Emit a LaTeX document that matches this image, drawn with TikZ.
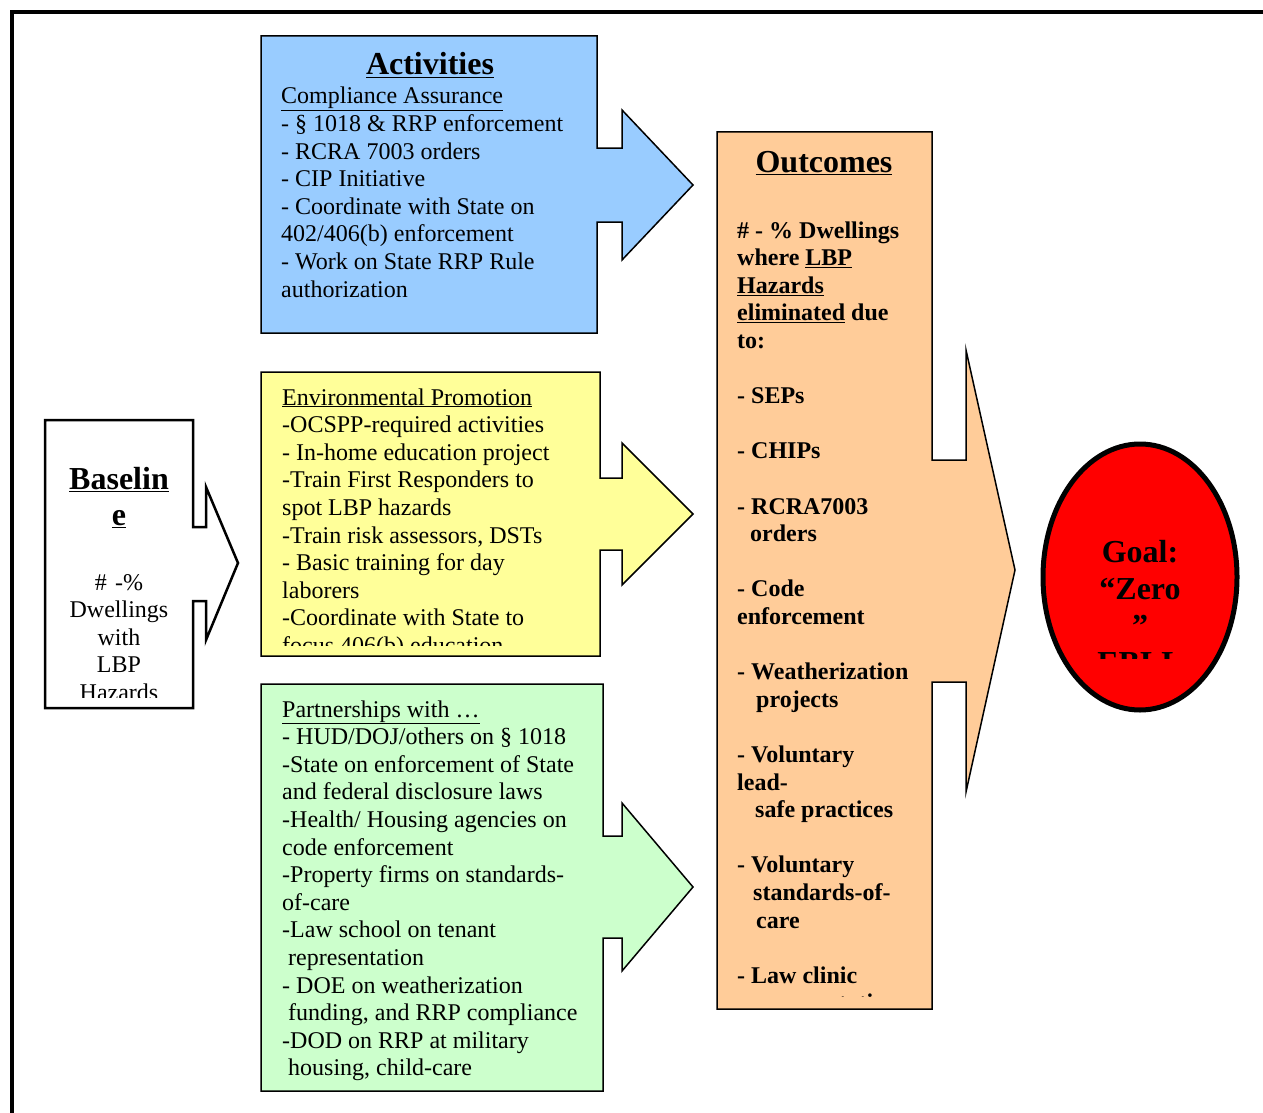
\documentclass[tikz,border=0pt]{standalone}
\usepackage{fontspec}
\setmainfont{Liberation Serif}
\usetikzlibrary{shapes.geometric}

\definecolor{actblue}{HTML}{99CCFF}
\definecolor{promyellow}{HTML}{FFFF99}
\definecolor{partgreen}{HTML}{CCFFCC}
\definecolor{outorange}{HTML}{FFCC99}
\newcommand{\tightspace}{\spaceskip=6pt plus 2pt minus 1pt\relax}

\begin{document}
\begin{tikzpicture}[x=1pt,y=-1pt,
  callout/.style={draw=black,line width=1.5pt,line join=miter},
  txt/.style={inner sep=0pt,anchor=base west,align=left,font=\fontsize{24}{27.6}\selectfont,
    execute at begin node=\tightspace},
  ttl/.style={inner sep=0pt,anchor=base,font=\fontsize{32}{37}\selectfont\bfseries}]
   \useasboundingbox (0,0) rectangle (1263,1113);
   % frame
   \draw[line width=4.5pt,line join=miter] (12,1113) -- (12,12) -- (1263,12);

   % callout shapes
   \draw[callout,line width=2.5pt,fill=white] (45,420) -- (193,420) -- (193,527) -- (206,527) -- (206,487) -- (238,563)
      -- (206,640) -- (206,601) -- (193,601) -- (193,708) -- (45,708) -- cycle;
   \draw[callout,fill=actblue] (261,36) -- (597,36) -- (597,148) -- (622,148) -- (622,110) -- (693,185)
      -- (622,260) -- (622,222) -- (597,222) -- (597,333) -- (261,333) -- cycle;
   \draw[callout,fill=promyellow] (261,372) -- (600,372) -- (600,478) -- (622,478) -- (622,443) -- (693,514)
      -- (622,585) -- (622,550) -- (600,550) -- (600,656) -- (261,656) -- cycle;
   \draw[callout,fill=partgreen] (261,684) -- (603,684) -- (603,836) -- (622,836) -- (622,803) -- (693,887)
      -- (622,971) -- (622,938) -- (603,938) -- (603,1091) -- (261,1091) -- cycle;
   \draw[callout,fill=outorange] (717,132) -- (932,132) -- (932,460) -- (966,460) -- (966,350) -- (1015,570)
      -- (966,792) -- (966,682) -- (932,682) -- (932,1009) -- (717,1009) -- cycle;
   \node[ellipse,draw=black,line width=5pt,fill=red,minimum width=194pt,minimum height=266pt] (goal) at (1140,577) {};

   % baseline
   \node[ttl,align=center] (basetitle) at (119,525) {\underline{Baselin}\\[-1pt]\underline{e}};
   \begin{scope}
    \clip (45,420) rectangle (193,697);
    \node[txt,anchor=base,text width=148pt,align=center] (basetext) at (119,590)
      {\# -\%\\Dwellings\\with\\LBP\\Hazards};
   \end{scope}

   % activities
   \node[ttl] (acttitle) at (430,75) {\underline{Activities}};
   \node[txt,text width=320pt] (acttext) at (281,104)
     {\underline{Compliance Assurance}\\
      - § 1018 \& RRP enforcement\\
      - RCRA 7003 orders\\
      - CIP Initiative\\
      - Coordinate with State on\\
      402/406(b) enforcement\\
      - Work on State RRP Rule\\
      authorization};

   % promotion
   \begin{scope}
    \clip (261,372) rectangle (600,645);
    \node[txt,text width=320pt] (promtext) at (282,405)
      {\underline{Environmental Promotion}\\
       -OCSPP-required activities\\
       - In-home education project\\
       -Train First Responders to\\
       spot LBP hazards\\
       -Train risk assessors, DSTs\\
       - Basic training for day\\
       laborers\\
       -Coordinate with State to\\
       focus 406(b) education};
   \end{scope}

   % partnerships
   \node[txt,text width=330pt] (parttext) at (282,717)
     {\underline{Partnerships with …}\\
      - HUD/DOJ/others on § 1018\\
      -State on enforcement of State\\
      and federal disclosure laws\\
      -Health/ Housing agencies on\\
      code enforcement\\
      -Property firms on standards-\\
      of-care\\
      -Law school on tenant\\
      \hspace*{6pt}representation\\
      - DOE on weatherization\\
      \hspace*{6pt}funding, and RRP compliance\\
      -DOD on RRP at military\\
      \hspace*{6pt}housing, child-care};

   % outcomes
   \node[ttl] (outtitle) at (824,172) {\underline{Outcomes}};
   \begin{scope}
    \clip (717,132) rectangle (932,996.5);
    \node[txt,text width=195pt,font=\fontsize{24}{27.6}\selectfont\bfseries] (outtext) at (737,238)
      {\# - \% Dwellings\\
       where \underline{LBP}\\
       \underline{Hazards}\\
       \underline{eliminated} due\\
       to:\\[27.6pt]
       - SEPs\\[27.6pt]
       - CHIPs\\[27.6pt]
       - RCRA7003\\
       \hspace*{13pt}orders\\[27.6pt]
       - Code\\
       enforcement\\[27.6pt]
       - Weatherization\\
       \hspace*{19pt}projects\\[27.6pt]
       - Voluntary\\
       lead-\\
       \hspace*{18pt}safe practices\\[27.6pt]
       - Voluntary\\
       \hspace*{16pt}standards-of-\\
       \hspace*{19pt}care\\[27.6pt]
       - Law clinic\\
       \hspace*{13pt}representation};
   \end{scope}

   % goal
   \begin{scope}
    \clip (1040,440) rectangle (1240,658);
    \node[ttl,text width=190pt,align=center,font=\fontsize{32}{37}\selectfont\bfseries] (goaltext) at (1140,562)
      {Goal:\\“Zero\\”\\EBLL};
   \end{scope}
\end{tikzpicture}
\end{document}
